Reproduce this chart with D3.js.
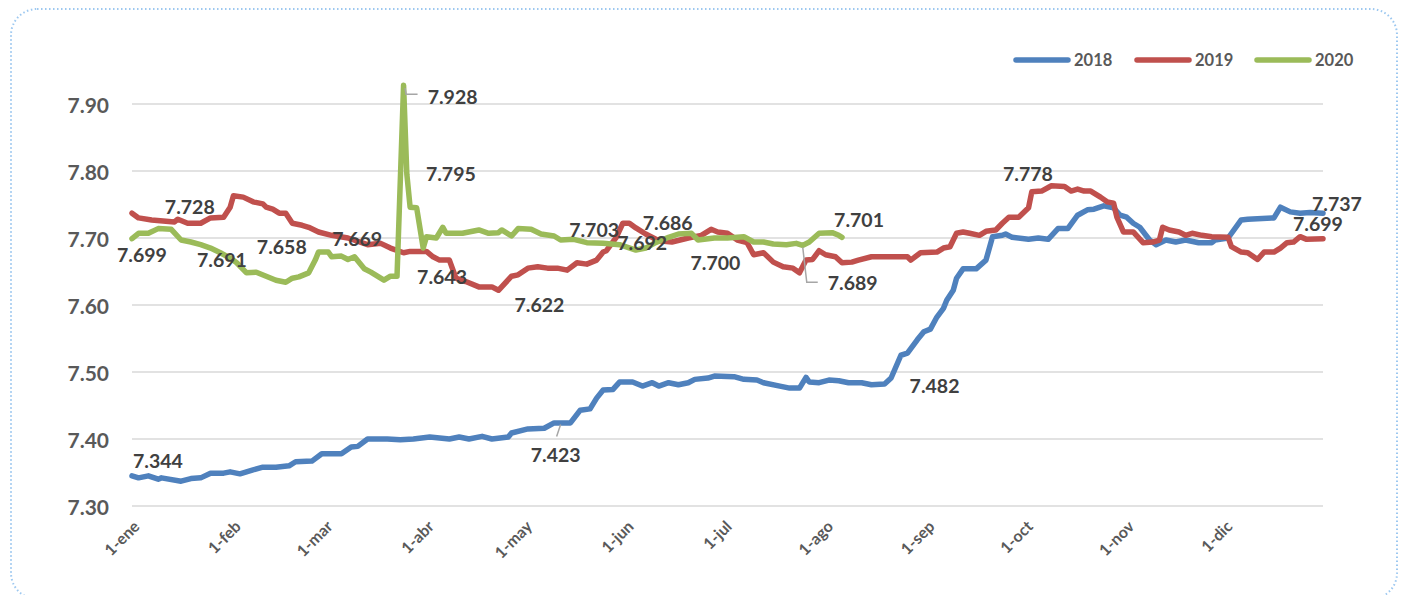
<!DOCTYPE html>
<html><head><meta charset="utf-8">
<script src="https://cdnjs.cloudflare.com/ajax/libs/d3/7.8.5/d3.min.js"></script>
<style>
html,body{margin:0;padding:0;background:#fff;}
svg{display:block;font-family:Lato,"Open Sans",sans-serif;}
</style></head>
<body><svg id="c" width="1408" height="595"></svg>
<script>
// ---- data ----
const seriesNames = ["2018","2019","2020"];
const seriesColors = ["#4F81BD","#C0504D","#9BBB59"];
const monthLabels = ["1-ene","1-feb","1-mar","1-abr","1-may","1-jun","1-jul","1-ago","1-sep","1-oct","1-nov","1-dic"];
const monthStartDays = [0,31,59,90,120,151,181,212,243,273,304,334];
const yTicks = [7.30,7.40,7.50,7.60,7.70,7.80,7.90];

const days2018 = [0,2,5,8,9,15,18,21,24,28,30,33,37,40,44,48,50,55,58,64,67,69,72,78,82,86,91,97,100,103,107,110,115,116,121,126,129,134,137,140,142,144,147,149,153,156,159,161,164,167,170,172,176,178,184,187,191,193,198,201,204,206,207,210,213,216,219,223,226,230,232,235,237,240,242,244,246,248,249,251,252,254,258,261,263,266,267,269,274,277,280,283,286,289,292,294,297,300,302,304,306,308,311,313,316,319,322,326,330,331,335,339,341,349,351,354,357,360,364];
const vals2018 = [7.345,7.342,7.345,7.340,7.342,7.337,7.341,7.342,7.349,7.349,7.351,7.348,7.354,7.358,7.358,7.360,7.366,7.367,7.378,7.378,7.388,7.389,7.400,7.400,7.399,7.400,7.403,7.400,7.403,7.400,7.404,7.400,7.403,7.409,7.415,7.416,7.424,7.424,7.443,7.445,7.461,7.473,7.474,7.485,7.485,7.479,7.484,7.479,7.484,7.481,7.484,7.489,7.491,7.494,7.493,7.489,7.488,7.484,7.479,7.476,7.476,7.492,7.485,7.484,7.488,7.487,7.484,7.484,7.481,7.482,7.491,7.525,7.528,7.548,7.560,7.564,7.582,7.595,7.607,7.622,7.640,7.654,7.654,7.667,7.702,7.704,7.706,7.701,7.698,7.700,7.698,7.714,7.714,7.734,7.742,7.743,7.748,7.745,7.734,7.731,7.722,7.716,7.697,7.690,7.697,7.694,7.697,7.693,7.693,7.697,7.700,7.727,7.728,7.730,7.746,7.739,7.737,7.738,7.737];

const days2019 = [0,2,6,13,14,17,21,24,28,30,31,34,37,40,41,43,45,47,49,52,54,57,61,66,72,76,79,83,85,90,92,94,97,99,102,106,108,110,112,116,118,121,124,127,130,133,136,139,142,144,145,148,150,152,154,157,161,165,170,174,177,179,182,185,188,190,193,196,199,202,204,206,208,210,212,215,217,220,222,226,231,237,238,241,246,248,250,252,254,256,259,261,264,266,268,271,274,275,278,281,285,287,289,291,293,296,298,300,301,303,306,309,312,314,315,317,320,322,324,327,330,335,336,339,341,344,346,349,351,353,355,357,359,364];
const vals2019 = [7.737,7.730,7.727,7.724,7.728,7.722,7.722,7.730,7.731,7.746,7.763,7.761,7.754,7.751,7.746,7.743,7.737,7.737,7.722,7.719,7.716,7.709,7.704,7.700,7.690,7.692,7.685,7.678,7.680,7.680,7.672,7.667,7.667,7.640,7.635,7.627,7.627,7.627,7.622,7.643,7.645,7.655,7.657,7.655,7.655,7.652,7.663,7.661,7.667,7.679,7.681,7.701,7.722,7.722,7.715,7.706,7.696,7.694,7.700,7.704,7.713,7.709,7.707,7.697,7.693,7.675,7.678,7.664,7.657,7.655,7.648,7.667,7.668,7.681,7.675,7.672,7.663,7.664,7.667,7.672,7.672,7.672,7.667,7.678,7.679,7.685,7.687,7.707,7.709,7.707,7.704,7.710,7.712,7.722,7.731,7.731,7.745,7.769,7.770,7.778,7.777,7.770,7.773,7.770,7.770,7.761,7.754,7.752,7.731,7.709,7.709,7.693,7.694,7.697,7.716,7.712,7.709,7.704,7.707,7.704,7.702,7.701,7.687,7.679,7.678,7.668,7.679,7.679,7.685,7.693,7.694,7.702,7.698,7.699];

const days2020 = [0,2,5,8,12,15,18,21,24,27,30,32,35,38,41,44,47,49,51,54,56,57,60,61,64,66,68,71,73,77,79,81,83,84,85,87,89,90,93,95,96,101,106,109,112,113,116,118,122,125,129,131,135,139,144,149,154,157,160,164,167,171,173,178,182,187,190,193,196,200,203,205,207,210,214,216,217];
const vals2020 = [7.699,7.707,7.707,7.714,7.713,7.697,7.694,7.690,7.685,7.678,7.670,7.663,7.648,7.649,7.643,7.637,7.634,7.640,7.642,7.648,7.667,7.679,7.679,7.672,7.673,7.668,7.672,7.654,7.649,7.637,7.643,7.643,7.928,7.795,7.746,7.745,7.685,7.702,7.700,7.716,7.707,7.707,7.712,7.707,7.708,7.712,7.703,7.714,7.713,7.706,7.703,7.697,7.698,7.693,7.692,7.690,7.682,7.685,7.693,7.701,7.706,7.707,7.697,7.700,7.700,7.702,7.694,7.694,7.691,7.690,7.692,7.689,7.694,7.707,7.708,7.704,7.701];

// data labels: value, series, day
const labelValues = [7.344,7.728,7.699,7.691,7.658,7.669,7.643,7.928,7.795,7.622,7.423,7.703,7.692,7.686,7.700,7.689,7.701,7.482,7.778,7.737,7.699];
const labelSeries = ["2018","2019","2020","2020","2020","2020","2020","2020","2020","2019","2018","2020","2020","2020","2020","2020","2020","2018","2019","2018","2019"];
const labelDays   = [0,14,0,22,36,67,81,83,84,112,131,129,144,157,178,205,217,230,283,364,364];

// ---- layout (not data) ----
const labelDx = [26,12,10,18,32,6,45,49,44,41,-5,40,39,22,1,50,17,50,-30,14,-5];
const labelDy = [-16,-13,16,15,-20,-20,0,11,-1,14,31,-6,-1,-25,24,37,-18,1,-12,-10,-15];
const leaderIdx = {7:[[1.5,3],[2.5,9],[14,9]], 10:[[0,1],[-4,13]], 15:[[0,2],[4,37],[15,37]]};

const svg = d3.select("#c");

// outer dotted rounded frame
svg.append("rect").attr("x",11).attr("y",9).attr("width",1386).attr("height",590)
  .attr("rx",26).attr("ry",26).attr("fill","none")
  .attr("stroke","#9DC8F0").attr("stroke-width",2).attr("stroke-dasharray","1.5,2.5");

const x = d3.scaleLinear().domain([0,364]).range([132,1323]);
const y = d3.scaleLinear().domain([7.30,7.90]).range([506,104]);

// gridlines
svg.append("g").selectAll("line").data(yTicks).join("line")
  .attr("x1",132).attr("x2",1323)
  .attr("y1",d=>y(d)).attr("y2",d=>y(d))
  .attr("stroke","#D9D9D9").attr("stroke-width",1.5);

// y axis labels
svg.append("g").selectAll("text").data(yTicks).join("text")
  .attr("x",109).attr("y",d=>y(d)).attr("text-anchor","end")
  .attr("dominant-baseline","central")
  .attr("font-size",21).attr("font-weight",700).attr("fill","#595959")
  .text(d=>d3.format(".2f")(d));

// x axis labels
svg.append("g").selectAll("text").data(monthLabels).join("text")
  .attr("transform",(d,i)=>`translate(${x(monthStartDays[i])+4},${523}) rotate(-45)`)
  .attr("text-anchor","end").attr("dominant-baseline","central")
  .attr("font-size",16).attr("font-weight",700).attr("fill","#595959")
  .text(d=>d);

// series
const seriesData = {
  "2018": days2018.map((d,i)=>({d, v: vals2018[i]})),
  "2019": days2019.map((d,i)=>({d, v: vals2019[i]})),
  "2020": days2020.map((d,i)=>({d, v: vals2020[i]}))
};
const line = d3.line().x(p=>x(p.d)).y(p=>y(p.v));
seriesNames.forEach((s,i)=>{
  svg.append("path").datum(seriesData[s])
    .attr("d",line).attr("fill","none")
    .attr("stroke",seriesColors[i]).attr("stroke-width",5.5)
    .attr("stroke-linejoin","round").attr("stroke-linecap","round");
});

// leader lines
Object.keys(leaderIdx).forEach(k=>{
  const i = +k;
  const ax = x(labelDays[i]), ay = y(labelValues[i]);
  svg.append("polyline")
    .attr("points", leaderIdx[k].map(p=>[ax+p[0], ay+p[1]].join(",")).join(" "))
    .attr("fill","none").attr("stroke","#A6A6A6").attr("stroke-width",1.5);
});

// data labels
svg.append("g").selectAll("text").data(labelValues).join("text")
  .attr("x",(d,i)=>x(labelDays[i])+labelDx[i])
  .attr("y",(d,i)=>y(d)+labelDy[i])
  .attr("text-anchor","middle").attr("dominant-baseline","central")
  .attr("font-size",19.5).attr("font-weight",700).attr("fill","#404040")
  .text(d=>d3.format(".3f")(d));

// legend
const legendX = [1016,1137,1257];
const lg = svg.append("g");
seriesNames.forEach((s,i)=>{
  lg.append("line").attr("x1",legendX[i]).attr("x2",legendX[i]+52)
    .attr("y1",60).attr("y2",60).attr("stroke",seriesColors[i])
    .attr("stroke-width",5.5).attr("stroke-linecap","round");
  lg.append("text").attr("x",legendX[i]+58).attr("y",60)
    .attr("dominant-baseline","central")
    .attr("font-size",16.5).attr("font-weight",700).attr("fill","#595959")
    .text(s);
});
</script></body></html>
